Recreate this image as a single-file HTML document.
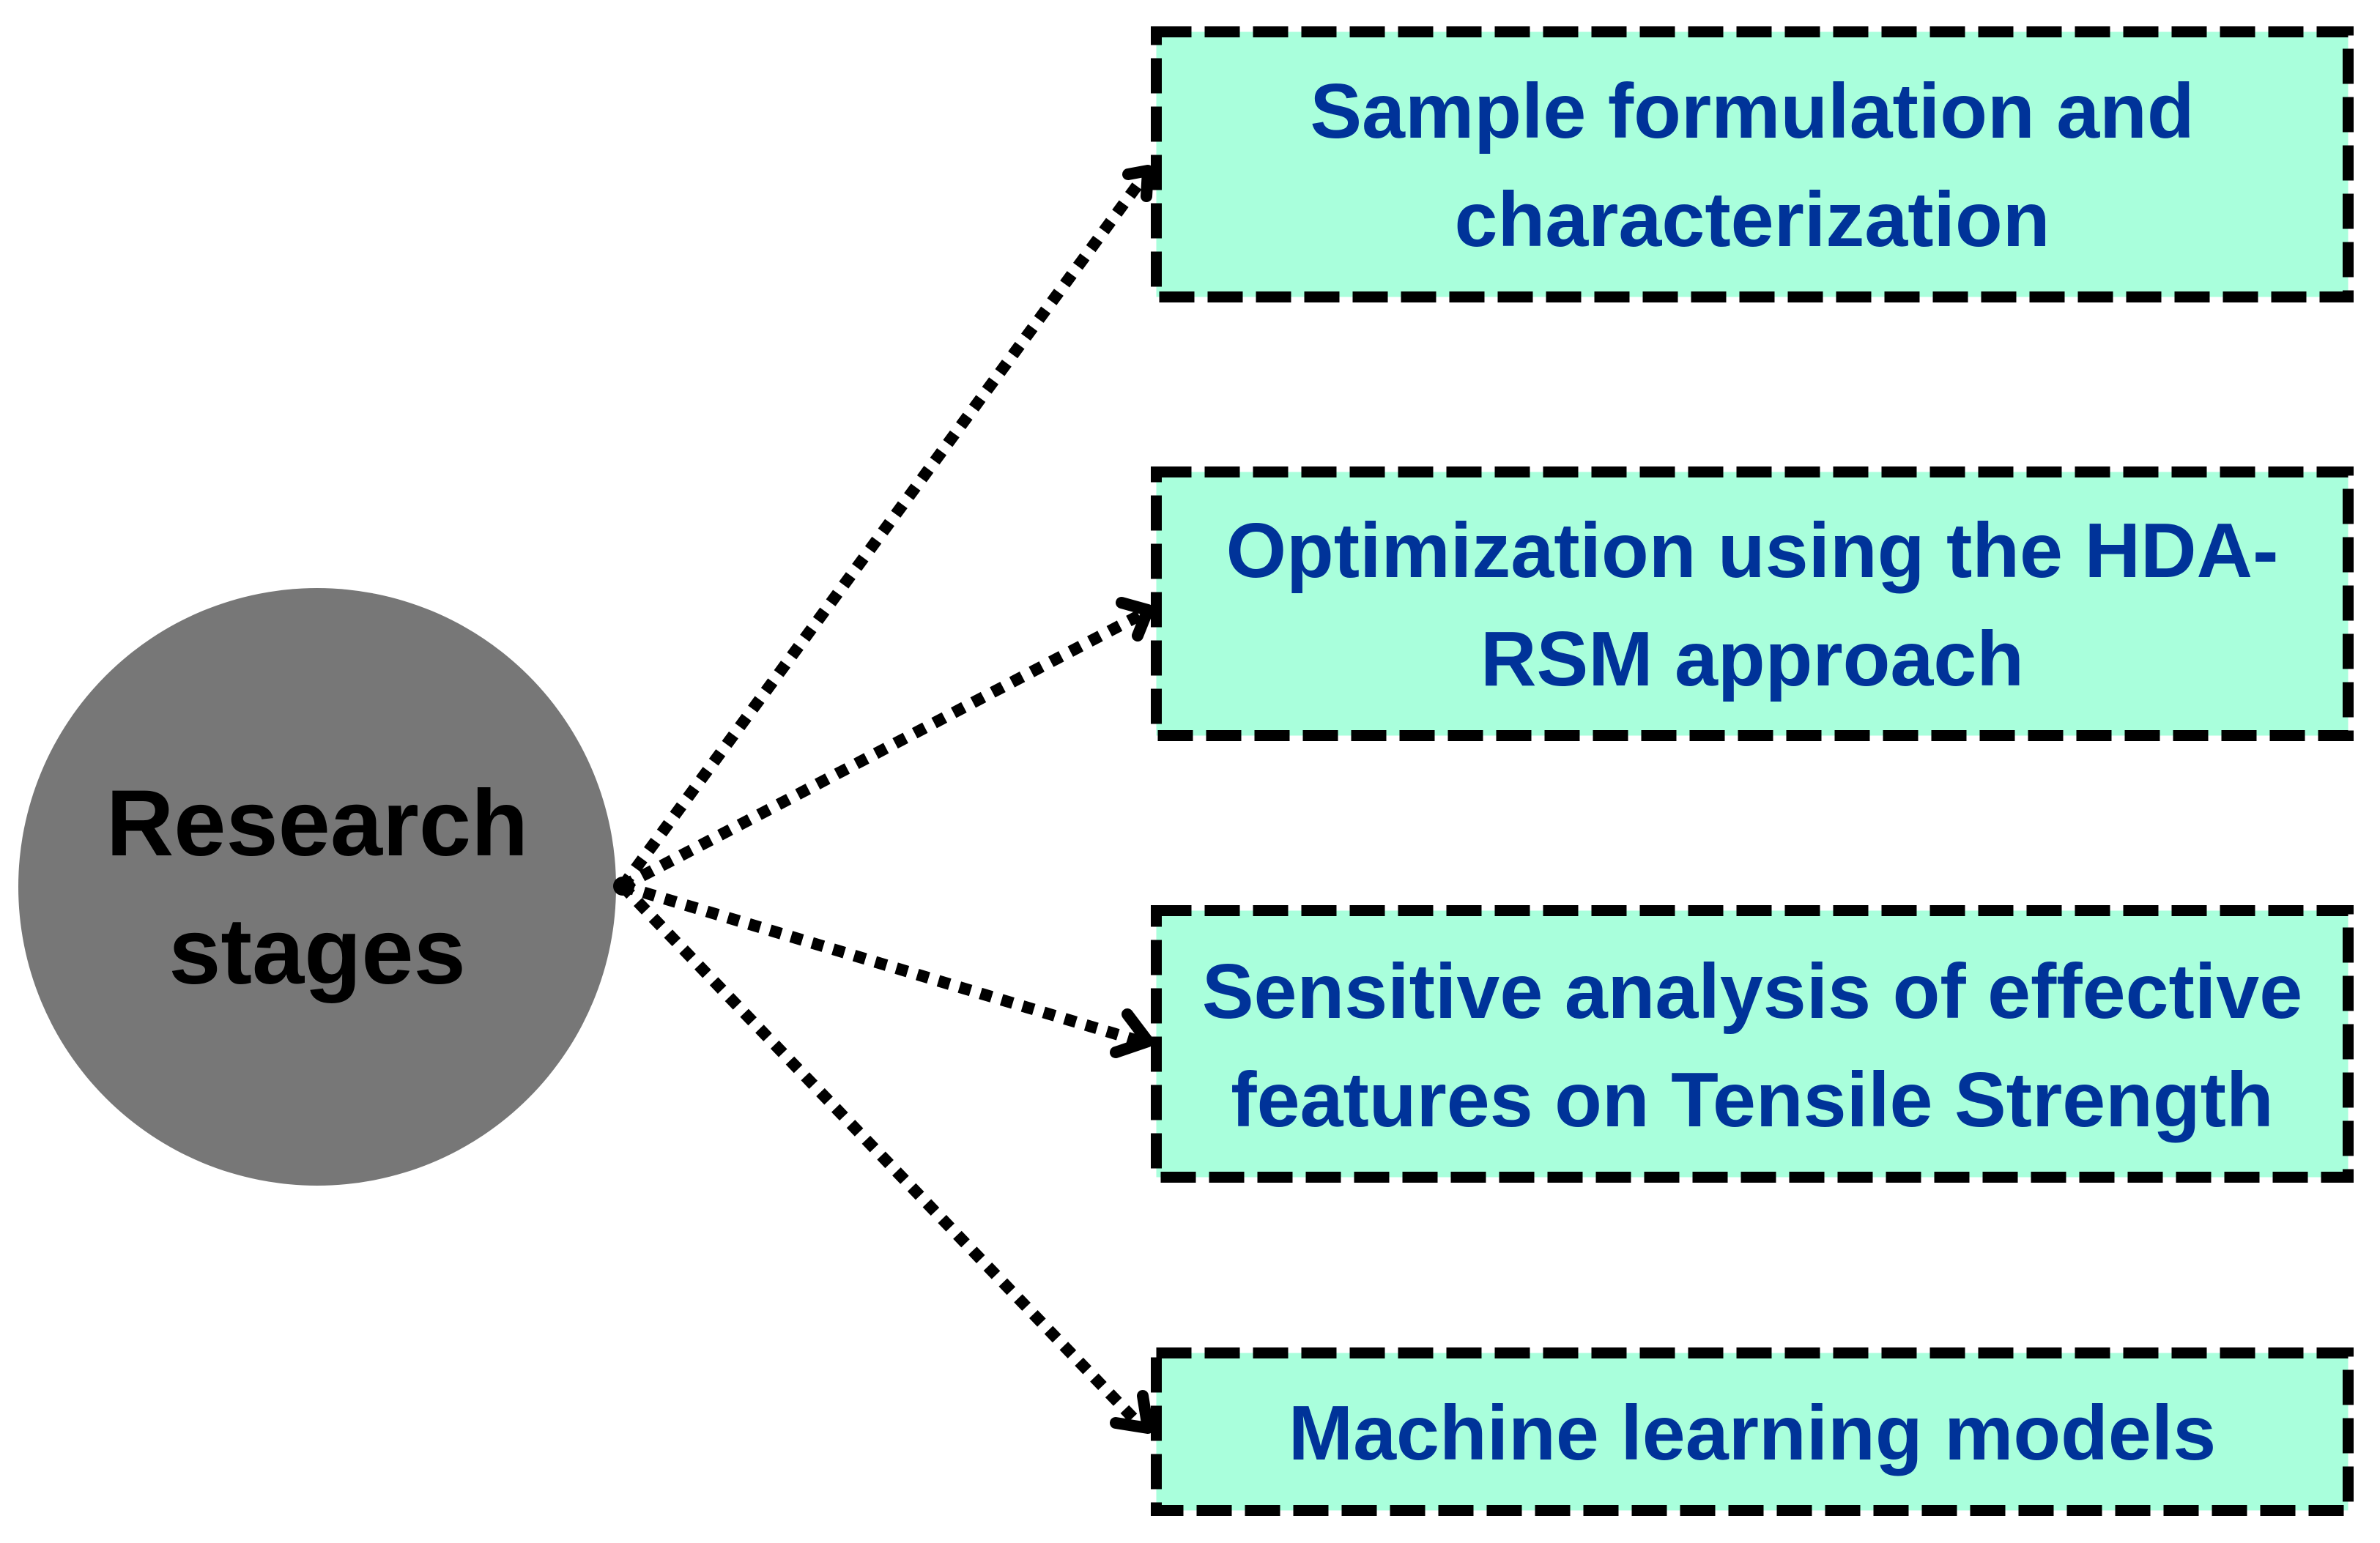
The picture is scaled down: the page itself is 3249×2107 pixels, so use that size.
<!DOCTYPE html>
<html><head><meta charset="utf-8"><style>
html,body{margin:0;padding:0;background:#fff;}
svg{display:block;}
text{font-family:"Liberation Sans",Arial,sans-serif;font-weight:bold;}
</style></head><body>
<svg width="3249" height="2107" viewBox="0 0 3249 2107" xmlns="http://www.w3.org/2000/svg">
<rect width="3249" height="2107" fill="#fff"/>
<circle cx="433" cy="1211" r="408" fill="#777777"/>
<text x="433" y="1168" font-size="128" text-anchor="middle" fill="#000">Research</text>
<text x="433" y="1343" font-size="128" text-anchor="middle" fill="#000">stages</text>

<g fill="#a9ffdc" stroke="#000" stroke-width="15" stroke-dasharray="48 18">
<rect x="1578.5" y="43.5" width="1627" height="362"/>
<rect x="1578.5" y="644.5" width="1627" height="360"/>
<rect x="1578.5" y="1243.5" width="1627" height="364"/>
<rect x="1578.5" y="1847.5" width="1627" height="215"/>
</g>

<g fill="#003399" font-size="106" text-anchor="middle">
<text x="2392" y="188">Sample formulation and</text>
<text x="2392" y="336">characterization</text>
<text x="2392" y="788">Optimization using the HDA-</text>
<text x="2392" y="936">RSM approach</text>
<text x="2392" y="1390">Sensitive analysis of effective</text>
<text x="2392" y="1538">features on Tensile Strength</text>
<text x="2392" y="1993">Machine learning models</text>
</g>

<g stroke="#000" stroke-width="16" fill="none" stroke-dasharray="16 14">
<line x1="850" y1="1210" x2="1560" y2="243"/>
<line x1="850" y1="1210" x2="1560" y2="838"/>
<line x1="850" y1="1210" x2="1560" y2="1423"/>
<line x1="850" y1="1210" x2="1560" y2="1950"/>
</g>
<circle cx="850" cy="1210" r="13" fill="#000"/>
<g stroke="#000" stroke-width="16" fill="none" stroke-linecap="round" stroke-linejoin="round">
<polyline points="1540,238 1567,233 1565,268"/>
<polyline points="1531,823 1567,833 1553,868"/>
<polyline points="1539,1385 1567,1422 1523,1437"/>
<polyline points="1523,1943 1567,1950 1560,1906"/>
</g>
</svg>
</body></html>
